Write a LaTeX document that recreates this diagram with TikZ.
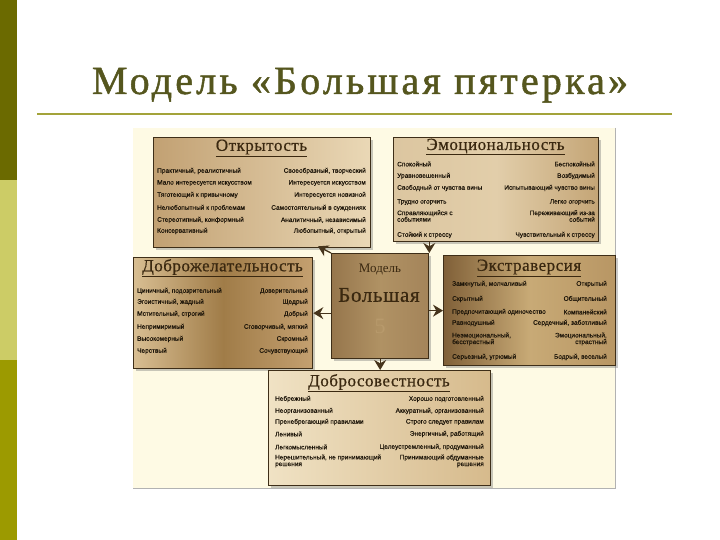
\documentclass[tikz,border=0pt]{standalone}
\usepackage{fontspec}
\setmainfont{Liberation Serif}
\newfontfamily\itemfont[FakeBold=0.4]{Liberation Sans}
\newfontfamily\titlefont[LetterSpace=8,FakeBold=1.2]{Liberation Serif}
\newfontfamily\headfont[LetterSpace=3,FakeBold=0.6]{Liberation Serif}
\usetikzlibrary{arrows.meta,shadows}
\definecolor{barA}{HTML}{6B6A00}
\definecolor{barB}{HTML}{CCCC66}
\definecolor{barC}{HTML}{9C9A00}
\definecolor{titleC}{HTML}{55561E}
\definecolor{ruleC}{HTML}{A3A33A}
\definecolor{diagBg}{HTML}{FEFAE4}
\definecolor{edgeC}{HTML}{3E2E18}
\definecolor{headC}{HTML}{3A2810}
\definecolor{itemC}{HTML}{1E160A}
\definecolor{arrC}{HTML}{46341C}
\definecolor{fiveC}{RGB}{184,154,108}
\definecolor{oL}{RGB}{194,161,115}\definecolor{oR}{RGB}{234,216,182}
\definecolor{eL}{RGB}{220,198,160}\definecolor{eM}{RGB}{226,206,170}\definecolor{eR}{RGB}{196,165,118}
\definecolor{aL}{RGB}{216,190,146}\definecolor{aM}{RGB}{160,124,72}\definecolor{aR}{RGB}{196,160,112}
\definecolor{cL}{RGB}{150,118,76}\definecolor{cM}{RGB}{176,146,100}\definecolor{cR}{RGB}{164,132,90}
\definecolor{xL}{RGB}{128,96,56}\definecolor{xM}{RGB}{200,170,118}\definecolor{xR}{RGB}{184,150,100}
\definecolor{kL}{RGB}{240,226,196}\definecolor{kR}{RGB}{214,186,140}
\begin{document}
\begin{tikzpicture}[x=1pt,y=-1pt,
  box/.style={draw=edgeC,line width=1.3pt,rectangle,inner sep=0pt,anchor=north west,
    drop shadow={shadow xshift=2pt,shadow yshift=-2pt,opacity=0.35,fill=black!60}},
  head/.style={headC,font=\headfont\fontsize{17}{17}\selectfont,inner sep=0pt},
  iteml/.style={itemC,font=\itemfont\fontsize{6.5}{6.6}\selectfont,inner sep=0pt,anchor=west,align=left},
  itemr/.style={itemC,font=\itemfont\fontsize{6.5}{6.6}\selectfont,inner sep=0pt,anchor=east,align=right},
  arr/.style={arrC,line width=1.3pt,-{Stealth[length=10pt,width=12pt]}}]
\useasboundingbox (0,0) rectangle (720,540);
\fill[white] (0,0) rectangle (720,540);
% left bar
\fill[barA] (0,0) rectangle (17,180);
\fill[barB] (0,180) rectangle (17,360);
\fill[barC] (0,360) rectangle (17,540);
% title
\node[titleC,font=\titlefont\fontsize{40}{40}\selectfont,anchor=base,inner sep=0pt] (title) at (360,94) {Модель «Большая пятерка»};
\draw[ruleC,line width=2pt] (37,114) -- (672,114);
% diagram background
\fill[diagBg] (133,128) rectangle (615,488);
\draw[black!30,line width=0.8pt] (615,128) -- (615,488) -- (133,488);
% boxes
\node[box,minimum width=217pt,minimum height=110pt,left color=oL,right color=oR] (open) at (153,137) {};
\node[box,minimum width=205pt,minimum height=104pt,left color=eL,right color=eR,middle color=eM] (emo) at (393,137) {};
\node[box,minimum width=179pt,minimum height=111pt,left color=aL,right color=aR,middle color=aM] (agree) at (133,257) {};
\node[box,minimum width=97pt,minimum height=105pt,left color=cL,right color=cR,middle color=cM] (center) at (331,253) {};
\node[box,minimum width=172pt,minimum height=110pt,left color=xL,right color=xR,middle color=xM] (extra) at (443,255) {};
\node[box,minimum width=222pt,minimum height=115pt,left color=kL,right color=kR] (consc) at (268,370) {};
% headings
\node[head] (openH) at (261.5,148) {\underline{Открытость}};
\node[head] (emoH) at (495.5,147) {\underline{Эмоциональность}};
\node[head] (agreeH) at (222.5,268) {\underline{Доброжелательность}};
\node[head] (extraH) at (529,268) {\underline{Экстраверсия}};
\node[head] (conscH) at (379,383) {\underline{Добросовестность}};
% center text
\node[headC,font=\fontsize{13}{13}\selectfont,inner sep=0pt] (cm1) at (380,270) {Модель};
\node[headC,font=\headfont\fontsize{21}{21}\selectfont,inner sep=0pt] (cm2) at (379,295) {Большая};
\node[fiveC,font=\fontsize{22}{22}\selectfont,inner sep=0pt] (cm3) at (380,326) {5};
% rows: Открытость
\foreach \yy/\l/\r [count=\i] in {
  171/{Практичный, реалистичный}/{Своеобразный, творческий},
  183/{Мало интересуется искусством}/{Интересуется искусством},
  195/{Тяготеющий к привычному}/{Интересуется новизной},
  208/{Нелюбопытный к проблемам}/{Самостоятельный в суждениях},
  220/{Стереотипный, конформный}/{Аналитичный, независимый},
  231/{Консервативный}/{Любопытный, открытый}}{
  \node[iteml] (ol\i) at (157,\yy) {\l};
  \node[itemr] (or\i) at (366,\yy) {\r};
}
% rows: Эмоциональность
\foreach \yy/\l/\r [count=\i] in {
  164/{Спокойный}/{Беспокойный},
  176/{Уравновешенный}/{Возбудимый},
  188/{Свободный от чувства вины}/{Испытывающий чувство вины},
  202/{Трудно огорчить}/{Легко огорчить},
  216/{Справляющийся с\\событиями}/{Переживающий из-за\\событий},
  235/{Стойкий к стрессу}/{Чувствительный к стрессу}}{
  \node[iteml] (el\i) at (397,\yy) {\l};
  \node[itemr] (er\i) at (595,\yy) {\r};
}
% rows: Доброжелательность
\foreach \yy/\l/\r [count=\i] in {
  291/{Циничный, подозрительный}/{Доверительный},
  302/{Эгоистичный, жадный}/{Щедрый},
  314/{Мстительный, строгий}/{Добрый},
  327/{Непримиримый}/{Сговорчивый, мягкий},
  339/{Высокомерный}/{Скромный},
  351/{Черствый}/{Сочувствующий}}{
  \node[iteml] (al\i) at (137,\yy) {\l};
  \node[itemr] (ar\i) at (308,\yy) {\r};
}
% rows: Экстраверсия
\foreach \yy/\l/\r [count=\i] in {
  284/{Замкнутый, молчаливый}/{Открытый},
  299/{Скрытный}/{Общительный},
  312/{Предпочитающий одиночество}/{Компанейский},
  323/{Равнодушный}/{Сердечный, заботливый},
  339/{Неэмоциональный,\\бесстрастный}/{Эмоциональный,\\страстный},
  357/{Серьезный, угрюмый}/{Бодрый, веселый}}{
  \node[iteml] (xl\i) at (452,\yy) {\l};
  \node[itemr] (xr\i) at (607,\yy) {\r};
}
% rows: Добросовестность
\foreach \yy/\l/\r [count=\i] in {
  399/{Небрежный}/{Хорошо подготовленный},
  411/{Неорганизованный}/{Аккуратный, организованный},
  422/{Пренебрегающий правилами}/{Строго следует правилам},
  434/{Ленивый}/{Энергичный, работящий},
  447/{Легкомысленный}/{Целеустремленный, продуманный},
  461/{Нерешительный, не принимающий\\решения}/{Принимающий обдуманные\\решения}}{
  \node[iteml] (cl\i) at (275,\yy) {\l};
  \node[itemr] (cr\i) at (484,\yy) {\r};
}
% connectors
\draw[arr] (center.north west) -- ([xshift=-13pt,yshift=2pt]open.south -| center.north west);
\draw[arr] (emo.south -| center.north east) -- (center.north east);
\draw[arr] (center.west |- agree.east) -- (agree.east);
\draw[arr] (center.east |- extra.west) -- (extra.west);
\draw[arr] (center.south) -- (consc.north -| center.south);
\end{tikzpicture}
\end{document}
